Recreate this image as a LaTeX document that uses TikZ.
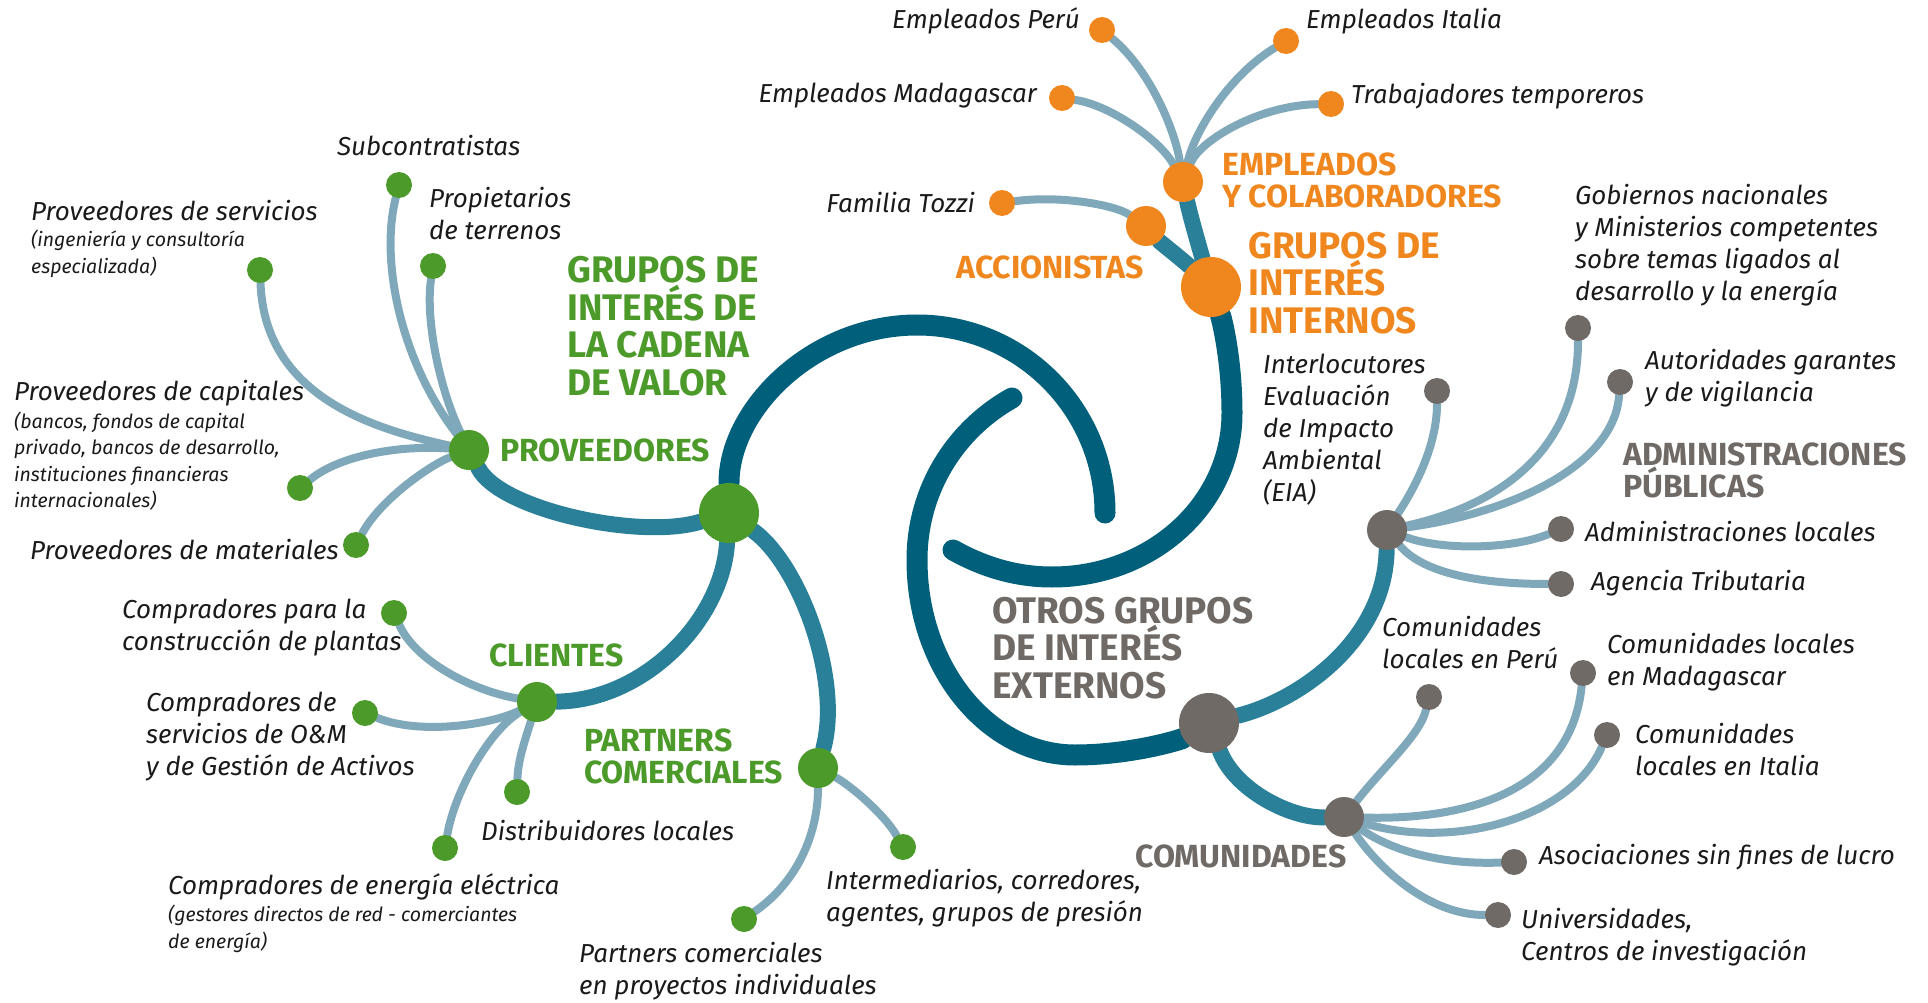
\documentclass[tikz,border=0pt]{standalone}
\usepackage{fontspec}
\setmainfont{Fira Sans}
\newfontfamily\mapfont{Fira Sans}
\usetikzlibrary{backgrounds}

\definecolor{tealdark}{HTML}{005F7A}
\definecolor{tealmid}{HTML}{2A8099}
\definecolor{twigblue}{HTML}{7FA8BB}
\definecolor{leafgreen}{HTML}{4C9A2A}
\definecolor{deeporange}{HTML}{F0871E}
\definecolor{stonegrey}{HTML}{706A66}
\definecolor{inkblack}{HTML}{1A1A1A}

\tikzset{
  hub/.style={circle,inner sep=0pt,minimum size=60pt},
  midhub/.style={circle,inner sep=0pt,minimum size=40pt},
  leaf/.style={circle,inner sep=0pt,minimum size=26pt},
  arm/.style={draw=tealdark,line width=21pt,line cap=round},
  branch/.style={draw=tealmid,line width=16pt,line cap=round},
  twig/.style={draw=twigblue,line width=8pt,line cap=round},
  lbl/.style={font=\mapfont\itshape\fontsize{26}{32}\selectfont,text=inkblack,align=left,inner sep=0pt},
  sublbl/.style={font=\mapfont\itshape\fontsize{19.5}{26.5}\selectfont,text=inkblack,align=left,inner sep=0pt},
  head/.style={font=\mapfont\bfseries\fontsize{32}{32}\selectfont,align=left,inner sep=0pt},
  bighead/.style={font=\mapfont\bfseries\fontsize{37}{37.6}\selectfont,align=left,inner sep=0pt},
}

\begin{document}
\begin{tikzpicture}[x=1pt,y=-1pt]
\useasboundingbox (0,0) rectangle (1928,1003);

% hubs
\node[hub,fill=leafgreen] (g0) at (729,513) {};
\node[hub,fill=deeporange] (o0) at (1211,287) {};
\node[hub,fill=stonegrey] (x0) at (1209,723) {};
\node[midhub,fill=leafgreen] (prov) at (469,450) {};
\node[midhub,fill=leafgreen] (cli) at (537,702) {};
\node[midhub,fill=leafgreen] (part) at (818,768) {};
\node[midhub,fill=deeporange] (emp) at (1183,182) {};
\node[midhub,fill=deeporange] (acc) at (1146,226) {};
\node[midhub,fill=stonegrey] (adm) at (1387,530) {};
\node[midhub,fill=stonegrey] (com) at (1344,817) {};

% leaves
\foreach \n/\x/\y in {subc/399/185,prop/433/266,serv/260/270,capi/300/488,mate/356/545,
  constr/394/613,om/365/713,distr/517/792,ener/445/848,inter/903/847,pproy/744/919}
  \node[leaf,fill=leafgreen] (\n) at (\x,\y) {};
\foreach \n/\x/\y in {peru/1102/30,italia/1286/41,madag/1062/98,tempo/1331/104,tozzi/1002/203}
  \node[leaf,fill=deeporange] (\n) at (\x,\y) {};
\foreach \n/\x/\y in {eia/1437/391,gob/1578/328,aut/1620/382,admloc/1561/529,agen/1561/584,
  cperu/1429/697,cmad/1583/673,cita/1607/735,asoc/1514/862,univ/1498/915}
  \node[leaf,fill=stonegrey] (\n) at (\x,\y) {};

% connectors
\begin{scope}[on background layer]
\draw[arm] (g0) .. controls (729,409) and (813,325) .. (917,325) .. controls (1021,325) and (1105,409) .. (1105,513);
\draw[arm] (953,550) .. controls (985,568) and (1018,577) .. (1052,577) .. controls (1151,577) and (1232,505) .. (1232,413) .. controls (1232,360) and (1222,320) .. (o0);
\draw[arm] (1012,398) .. controls (955,430) and (917,490) .. (917,560) .. controls (917,668) and (988,755) .. (1075,755) .. controls (1130,755) and (1180,740) .. (x0);

\draw[branch] (g0) .. controls (640,540) and (500,510) .. (prov);
\draw[branch] (g0) .. controls (722,620) and (645,700) .. (cli);
\draw[branch] (g0) .. controls (800,565) and (842,680) .. (part);
\draw[branch] (o0) .. controls (1200,250) and (1190,215) .. (emp);
\draw[branch] (o0) .. controls (1185,262) and (1160,242) .. (acc);
\draw[branch] (x0) .. controls (1300,700) and (1385,640) .. (adm);
\draw[branch] (x0) .. controls (1235,790) and (1290,818) .. (com);

\draw[twig] (prov) .. controls (400,360) and (380,260) .. (subc);
\draw[twig] (prov) .. controls (440,390) and (425,320) .. (prop);
\draw[twig] (prov) .. controls (380,430) and (265,400) .. (serv);
\draw[twig] (prov) .. controls (400,445) and (340,455) .. (capi);
\draw[twig] (prov) .. controls (430,465) and (380,500) .. (mate);
\draw[twig] (cli) .. controls (470,690) and (415,660) .. (constr);
\draw[twig] (cli) .. controls (490,725) and (420,735) .. (om);
\draw[twig] (cli) .. controls (525,740) and (518,760) .. (distr);
\draw[twig] (cli) .. controls (490,730) and (455,790) .. (ener);
\draw[twig] (part) .. controls (850,785) and (885,815) .. (inter);
\draw[twig] (part) .. controls (818,830) and (800,880) .. (pproy);

\draw[twig] (emp) .. controls (1175,130) and (1150,70) .. (peru);
\draw[twig] (emp) .. controls (1195,130) and (1230,75) .. (italia);
\draw[twig] (emp) .. controls (1160,140) and (1110,105) .. (madag);
\draw[twig] (emp) .. controls (1200,140) and (1260,105) .. (tempo);
\draw[twig] (acc) .. controls (1115,205) and (1060,195) .. (tozzi);

\draw[twig] (adm) .. controls (1420,480) and (1437,440) .. (eia);
\draw[twig] (adm) .. controls (1500,505) and (1578,450) .. (gob);
\draw[twig] (adm) .. controls (1500,515) and (1614,470) .. (aut);
\draw[twig] (adm) .. controls (1440,550) and (1510,550) .. (admloc);
\draw[twig] (adm) .. controls (1420,570) and (1470,584) .. (agen);
\draw[twig] (com) .. controls (1385,765) and (1420,735) .. (cperu);
\draw[twig] (com) .. controls (1450,820) and (1570,800) .. (cmad);
\draw[twig] (com) .. controls (1450,850) and (1570,820) .. (cita);
\draw[twig] (com) .. controls (1390,850) and (1440,865) .. (asoc);
\draw[twig] (com) .. controls (1380,870) and (1430,915) .. (univ);
\end{scope}

% headings
\node[bighead,text=leafgreen,anchor=west] (vcT) at (567,326) {GRUPOS DE\\INTERÉS DE\\LA CADENA\\DE VALOR};
\node[head,text=leafgreen,anchor=west] (provT) at (500,450) {PROVEEDORES};
\node[head,text=leafgreen,anchor=west] (cliT) at (489,655) {CLIENTES};
\node[head,text=leafgreen,anchor=west] (partT) at (584,756) {PARTNERS\\COMERCIALES};
\node[bighead,text=deeporange,anchor=west] (intT) at (1248,283) {GRUPOS DE\\INTERÉS\\INTERNOS};
\node[head,text=deeporange,anchor=west] (empT) at (1222,180) {EMPLEADOS\\Y COLABORADORES};
\node[head,text=deeporange,anchor=east] (accT) at (1144,267) {ACCIONISTAS};
\node[bighead,text=stonegrey,anchor=west] (extT) at (992,648) {OTROS GRUPOS\\DE INTERÉS\\EXTERNOS};
\node[head,text=stonegrey,anchor=west] (admT) at (1623,470) {ADMINISTRACIONES\\PÚBLICAS};
\node[head,text=stonegrey,anchor=west] (comT) at (1135,856) {COMUNIDADES};

% labels
\node[lbl,anchor=west] (subcT) at (337,146) {Subcontratistas};
\node[lbl,anchor=west] (propT) at (429,214) {Propietarios\\de terrenos};
\node[lbl,anchor=west] (servT) at (31,211) {Proveedores de servicios};
\node[sublbl,anchor=west] (servS) at (31,254) {(ingeniería y consultoría\\especializada)};
\node[lbl,anchor=west] (capiT) at (14,393) {Proveedores de capitales};
\node[sublbl,anchor=west] (capiS) at (14,461) {(bancos, fondos de capital\\privado, bancos de desarrollo,\\instituciones financieras\\internacionales)};
\node[lbl,anchor=west] (mateT) at (30,550) {Proveedores de materiales};
\node[lbl,anchor=west] (constrT) at (122,628) {Compradores para la\\construcción de plantas};
\node[lbl,anchor=west] (omT) at (146,737) {Compradores de\\servicios de O\&M\\y de Gestión de Activos};
\node[lbl,anchor=west] (distrT) at (481,831) {Distribuidores locales};
\node[lbl,anchor=west] (enerT) at (168,887) {Compradores de energía eléctrica};
\node[sublbl,anchor=west] (enerS) at (168,929) {(gestores directos de red - comerciantes\\de energía)};
\node[lbl,anchor=west] (interT) at (826,898) {Intermediarios, corredores,\\agentes, grupos de presión};
\node[lbl,anchor=west] (pproyT) at (579,971) {Partners comerciales\\en proyectos individuales};

\node[lbl,anchor=east] (peruT) at (1080,21) {Empleados Perú};
\node[lbl,anchor=west] (italiaT) at (1306,21) {Empleados Italia};
\node[lbl,anchor=east] (madagT) at (1037,96) {Empleados Madagascar};
\node[lbl,anchor=west] (tempoT) at (1351,96) {Trabajadores temporeros};
\node[lbl,anchor=east] (tozziT) at (975,203) {Familia Tozzi};

\node[lbl,anchor=west] (eiaT) at (1263,430) {Interlocutores\\Evaluación\\de Impacto\\Ambiental\\(EIA)};
\node[lbl,anchor=west] (gobT) at (1575,245) {Gobiernos nacionales\\y Ministerios competentes\\sobre temas ligados al\\desarrollo y la energía};
\node[lbl,anchor=west] (autT) at (1645,378) {Autoridades garantes\\y de vigilancia};
\node[lbl,anchor=west] (admlocT) at (1585,532) {Administraciones locales};
\node[lbl,anchor=west] (agenT) at (1591,583) {Agencia Tributaria};
\node[lbl,anchor=west] (cperuT) at (1382,643) {Comunidades\\locales en Perú};
\node[lbl,anchor=west] (cmadT) at (1607,662) {Comunidades locales\\en Madagascar};
\node[lbl,anchor=west] (citaT) at (1635,750) {Comunidades\\locales en Italia};
\node[lbl,anchor=west] (asocT) at (1539,857) {Asociaciones sin fines de lucro};
\node[lbl,anchor=west] (univT) at (1521,937) {Universidades,\\Centros de investigación};
\end{tikzpicture}
\end{document}
